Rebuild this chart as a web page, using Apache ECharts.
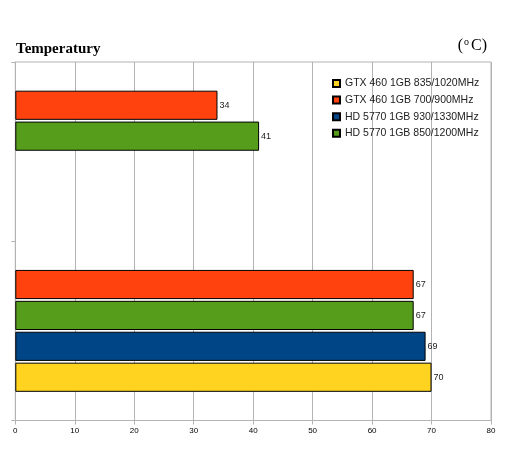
<!DOCTYPE html>
<html>
<head>
<meta charset="utf-8">
<script src="https://cdn.jsdelivr.net/npm/echarts@6/dist/echarts.min.js"></script>
<style>
html,body{margin:0;padding:0;background:#fff;}
#c{width:511px;height:466px;}
</style>
</head>
<body>
<div id="c"></div>
<script>
var categories = ['Load', 'Idle'];
var xTicks = [0, 10, 20, 30, 40, 50, 60, 70, 80];
var gtx700 = [67, 34];
var hd850 = [67, 41];
var hd930 = [69, null];
var gtx835 = [70, null];
var seriesNames = ['GTX 460 1GB 700/900MHz', 'HD 5770 1GB 850/1200MHz', 'HD 5770 1GB 930/1330MHz', 'GTX 460 1GB 835/1020MHz'];
var legendOrder = ['GTX 460 1GB 835/1020MHz', 'GTX 460 1GB 700/900MHz', 'HD 5770 1GB 930/1330MHz', 'HD 5770 1GB 850/1200MHz'];
var colors = ['#FF420E', '#579D1C', '#004586', '#FFD320'];
var seriesData = [gtx700, hd850, hd930, gtx835];

var chart = echarts.init(document.getElementById('c'));
var series = seriesData.map(function (d, i) {
  return {
    name: seriesNames[i],
    type: 'bar',
    data: d,
    barGap: '6%',
    barCategoryGap: '32%',
    itemStyle: { color: colors[i], borderColor: '#000', borderWidth: 1 },
    label: { show: true, position: 'right', distance: 2, fontSize: 9, color: '#222', fontFamily: 'Liberation Sans' }
  };
});
chart.setOption({
  animation: false,
  backgroundColor: '#fff',
  title: {
    text: 'Temperatury',
    left: 11, top: 37,
    textStyle: { fontFamily: 'Liberation Serif', fontWeight: 'bold', fontSize: 15, color: '#000' }
  },
  graphic: [{
    type: 'text', right: 24, top: 37,
    style: {
      text: '{p|(}{s|o}{p|C)}',
      rich: {
        p: { fontFamily: 'Liberation Serif', fontSize: 16, fill: '#000', color: '#000' },
        s: { fontFamily: 'Liberation Serif', fontSize: 10, fill: '#000', color: '#000', verticalAlign: 'top', padding: [0, 2, 8, 1] }
      }
    }
  }],
  legend: {
    orient: 'vertical', left: 327, top: 73,
    data: legendOrder,
    itemWidth: 7, itemHeight: 7, itemGap: 5.6, itemTextGap: 5,
    icon: 'rect',
    textStyle: { fontFamily: 'Liberation Sans', fontSize: 10.5, color: '#222', lineHeight: 10 }
  },
  grid: { left: 15.3, right: 20, top: 62, bottom: 45.5, show: true, borderColor: '#b3b3b3', borderWidth: 1, containLabel: false },
  xAxis: {
    type: 'value', min: 0, max: 80, interval: 10,
    axisLine: { show: true, lineStyle: { color: '#b3b3b3' } },
    axisTick: { show: true, length: 4, lineStyle: { color: '#b3b3b3' } },
    axisLabel: { fontFamily: 'Liberation Sans', fontSize: 8, color: '#000', margin: 6 },
    splitLine: { show: true, lineStyle: { color: '#b3b3b3' } }
  },
  yAxis: {
    type: 'category', data: categories,
    axisLine: { show: true, lineStyle: { color: '#b3b3b3' } },
    axisTick: { show: true, length: 4, lineStyle: { color: '#b3b3b3' } },
    axisLabel: { show: false },
    splitLine: { show: false }
  },
  series: series
});
</script>
</body>
</html>
